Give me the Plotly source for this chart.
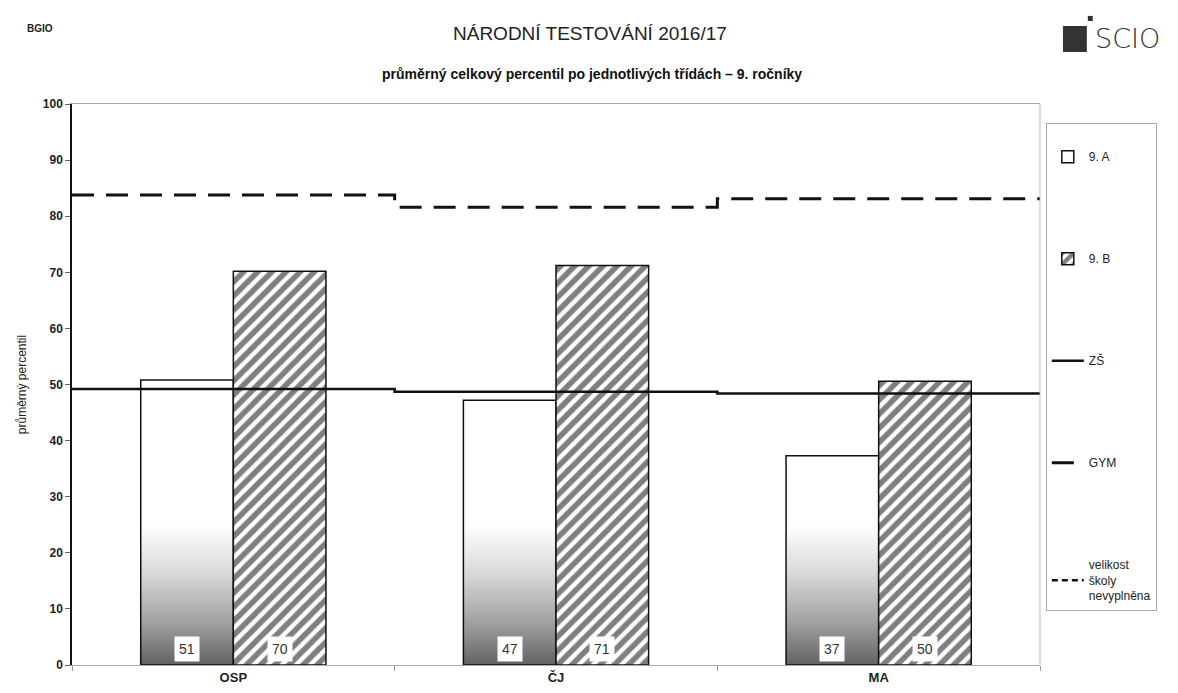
import base64
import plotly.graph_objects as go

# ---- data ----
categories = ["OSP", "ČJ", "MA"]
class_a = [50.8, 47.2, 37.3]
class_b = [70.2, 71.2, 50.6]
labels_a = ["51", "47", "37"]
labels_b = ["70", "71", "50"]
zs_values = [49.2, 48.7, 48.4]
gym_values = [83.8, 81.6, 83.1]
y_ticks = [0, 10, 20, 30, 40, 50, 60, 70, 80, 90, 100]

FONT = "Arial, Liberation Sans, sans-serif"
x_pos = list(range(len(categories)))
bar_w = 0.287
step_x = [i - 0.5 for i in x_pos] + [x_pos[-1] + 0.5]

fig = go.Figure()

fig.add_trace(go.Bar(
    x=x_pos, y=class_a, name="9. A", legendgroup="a",
    marker=dict(color="rgba(255,255,255,0)", line=dict(color="#111", width=1.5)),
    width=bar_w, offset=-bar_w, hoverinfo="y",
))
fig.add_trace(go.Bar(
    x=x_pos, y=class_b, name="9. B", legendgroup="b",
    marker=dict(color="white", line=dict(color="#111", width=1.5),
                pattern=dict(shape="/", fgcolor="#000", bgcolor="white", size=10, solidity=0.55)),
    width=bar_w, offset=0, hoverinfo="y",
))
fig.add_trace(go.Scatter(
    x=step_x, y=zs_values + [zs_values[-1]], name="ZŠ", legendgroup="c",
    mode="lines", line=dict(color="#111", width=2.5, shape="hv"),
))
fig.add_trace(go.Scatter(
    x=step_x, y=gym_values + [gym_values[-1]], name="GYM", legendgroup="d",
    mode="lines", line=dict(color="#111", width=3, shape="hv", dash="22px,12px"),
))
fig.add_trace(go.Scatter(
    x=[None], y=[None], name="velikost<br>školy<br>nevyplněna", legendgroup="e",
    mode="lines", line=dict(color="#111", width=2.5, dash="6px,4px"),
))

# gradient fill inside 9. A bars
svg = ('<svg xmlns="http://www.w3.org/2000/svg" width="10" height="100" preserveAspectRatio="none">'
       '<defs><linearGradient id="g" x1="0" y1="0" x2="0" y2="1">'
       '<stop offset="0" stop-color="#ffffff"/><stop offset="0.35" stop-color="#d8d8d8"/>'
       '<stop offset="0.7" stop-color="#a0a0a0"/><stop offset="1" stop-color="#626262"/>'
       '</linearGradient></defs><rect width="10" height="100" fill="url(#g)"/></svg>')
src = "data:image/svg+xml;base64," + base64.b64encode(svg.encode()).decode()
images = []
for i, v in zip(x_pos, class_a):
    h = min(25, v)
    images.append(dict(source=src, xref="x", yref="y", x=i - bar_w, y=h, sizex=bar_w, sizey=h,
                       xanchor="left", yanchor="top", sizing="stretch", layer="below"))

annotations = []
for i, la, lb in zip(x_pos, labels_a, labels_b):
    for xc, t in ((i - bar_w / 2, la), (i + bar_w / 2, lb)):
        annotations.append(dict(x=xc, y=0, xref="x", yref="y", text=t, showarrow=False,
                                yanchor="bottom", yshift=3, bgcolor="white",
                                font=dict(family=FONT, size=14, color="#333"),
                                borderpad=4))

annotations += [
    dict(text="průměrný celkový percentil po jednotlivých třídách – 9. ročníky",
         xref="paper", yref="paper", x=0.537, y=1.0535, showarrow=False,
         xanchor="center", yanchor="middle",
         font=dict(family=FONT, size=14, color="#111", weight="bold")),
    dict(text="BGIO", xref="paper", yref="paper", x=-0.049, y=1.135, xanchor="left",
         yanchor="middle", showarrow=False,
         font=dict(family=FONT, size=10, color="#222", weight="bold")),
    dict(text="SCIO", xref="paper", yref="paper", x=1.0547, y=1.1176, showarrow=False,
         xanchor="left", yanchor="middle",
         font=dict(family="DejaVu Sans, sans-serif", size=27, color="#333", weight=200)),
]

shapes = [
    dict(type="rect", xref="paper", yref="paper", x0=1.0237, x1=1.0484, y0=1.0927, y1=1.139,
         fillcolor="#333", line=dict(width=0)),
    dict(type="rect", xref="paper", yref="paper", x0=1.0494, x1=1.0545, y0=1.148, y1=1.157,
         fillcolor="#333", line=dict(width=0)),
    dict(type="line", xref="paper", yref="paper", x0=1, x1=1, y0=0, y1=1,
         line=dict(color="#bbb", width=1)),
]

fig.update_layout(
    width=1178, height=693,
    margin=dict(l=60, r=146, t=96, b=36),
    paper_bgcolor="white", plot_bgcolor="white",
    barmode="overlay",
    title=dict(text="NÁRODNÍ TESTOVÁNÍ 2016/17", xref="container", x=0.494, y=0.964,
               yanchor="middle", xanchor="center",
               font=dict(family=FONT, size=19, color="#222")),
    showlegend=True,
    legend=dict(x=1.006, xanchor="left", y=0.966, yanchor="top",
                bordercolor="#aaa", borderwidth=1, bgcolor="white",
                font=dict(family=FONT, size=12, color="#222"),
                tracegroupgap=83, itemwidth=32, traceorder="grouped",
                title=dict(text=" ", font=dict(size=14))),
    images=images, annotations=annotations, shapes=shapes,
    xaxis=dict(range=[-0.5, 2.5], tickvals=x_pos, ticktext=categories,
               tickfont=dict(family=FONT, size=13, color="#222", weight="bold"),
               showline=True, linecolor="#aaa", linewidth=1, mirror=True,
               showgrid=False, zeroline=False, ticks="",
               minor=dict(tick0=0.5, dtick=1, ticks="outside", ticklen=5, tickcolor="#999")),
    yaxis=dict(range=[0, 100], tickvals=y_ticks,
               tickfont=dict(family=FONT, size=12, color="#222", weight="bold"),
               showline=True, linecolor="#111", linewidth=1.5,
               ticks="outside", ticklen=5, tickcolor="#666",
               showgrid=False, zeroline=False,
               title=dict(text="průměrný percentil", standoff=14,
                          font=dict(family=FONT, size=12, color="#222"))),
)

fig.write_html("out.html")
